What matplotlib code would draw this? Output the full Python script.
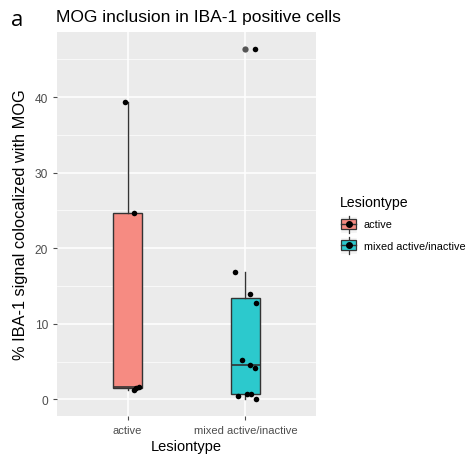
import numpy as np
import matplotlib
matplotlib.use("Agg")
import matplotlib.pyplot as plt
from matplotlib.legend_handler import HandlerBase
from matplotlib.patches import Rectangle, Patch
from matplotlib.lines import Line2D

plt.rcParams["font.family"] = ["Liberation Sans", "DejaVu Sans"]

# data
categories = ["active", "mixed active/inactive"]
active_vals = [39.3, 24.7, 1.3, 1.45, 1.7]
mixed_vals = [16.9, 13.95, 12.75, 5.2, 4.5, 4.2, 0.45, 0.65, 0.7, 0.1, 46.3]
# horizontal jitter of the points (category units)
active_jitter = [-0.02, 0.05, 0.05, 0.07, 0.10]
mixed_jitter = [-0.09, 0.04, 0.09, -0.03, 0.04, 0.08, -0.06, 0.01, 0.05, 0.09, 0.08]
colors = ["#F68B82", "#2CC9CD"]
y_ticks = [0, 10, 20, 30, 40]

fig = plt.figure(figsize=(4.71, 4.56), dpi=100)
ax = fig.add_axes([0.121, 0.0855, 0.55, 0.842])
ax.set_facecolor("#EBEBEB")
for s in ax.spines.values():
    s.set_visible(False)

# grid
ax.set_yticks(y_ticks)
ax.set_yticks([5, 15, 25, 35, 45], minor=True)
ax.grid(which="major", color="white", linewidth=1.1)
ax.grid(which="minor", axis="y", color="white", linewidth=0.5)
ax.set_axisbelow(True)

data = [active_vals, mixed_vals]
bp = ax.boxplot(data, positions=[1, 2], widths=0.25, patch_artist=True,
                whis=1.5, showcaps=False,
                flierprops=dict(marker="o", markerfacecolor="#555555",
                                markeredgecolor="none", markersize=4.5),
                medianprops=dict(color="#333333", linewidth=1.2),
                whiskerprops=dict(color="#333333", linewidth=1.0),
                boxprops=dict(edgecolor="#333333", linewidth=1.0))
for patch, c in zip(bp["boxes"], colors):
    patch.set_facecolor(c)
for med in bp["medians"]:
    med.set_zorder(3)

for i, (vals, jit) in enumerate([(active_vals, active_jitter), (mixed_vals, mixed_jitter)]):
    xs = np.array(jit) + i + 1
    ax.scatter(xs, vals, s=16, color="black", zorder=4, linewidths=0)

ax.set_xlim(0.4, 2.6)
ax.set_ylim(-2.2, 48.6)
ax.set_xticks([1, 2])
ax.set_xticklabels(categories)
ax.tick_params(axis="both", colors="#4D4D4D", labelsize=8, length=3, width=0.8,
               labelcolor="#4D4D4D")
ax.tick_params(axis="y", labelsize=8.6)
ax.tick_params(axis="both", which="minor", length=0)
ax.set_xlabel("Lesiontype", fontsize=10.5, labelpad=3)
ax.set_ylabel("% IBA-1 signal colocalized with MOG", fontsize=11.8, labelpad=5)
ax.set_title("MOG inclusion in IBA-1 positive cells", fontsize=12.5, loc="left",
             pad=8, x=-0.003)
fig.text(0.036, 0.956, "a", fontsize=16, va="center", ha="center",
         family=["Open Sans", "DejaVu Sans"])


class BoxKey(HandlerBase):
    def create_artists(self, legend, orig_handle, xdescent, ydescent,
                       width, height, fontsize, trans):
        bg = Rectangle((-xdescent, -ydescent), width, height,
                       facecolor="#F2F2F2", edgecolor="white", transform=trans)
        cx = -xdescent + width / 2
        vl = Line2D([cx, cx], [-ydescent, -ydescent + height],
                    color="#333333", lw=0.9, transform=trans)
        box = Rectangle((-xdescent + width * 0.05, -ydescent + height * 0.2),
                        width * 0.9, height * 0.6,
                        facecolor=orig_handle.get_facecolor(),
                        edgecolor="#333333", lw=0.9, transform=trans)
        hl = Line2D([-xdescent + width * 0.05, -xdescent + width * 0.95],
                    [-ydescent + height / 2] * 2, color="#333333", lw=1.0,
                    transform=trans)
        dot = Line2D([cx], [-ydescent + height / 2], marker="o", color="black",
                     markersize=4, transform=trans)
        return [bg, vl, box, hl, dot]


handles = [Patch(facecolor=c) for c in colors]
leg = fig.legend(handles, categories, title="Lesiontype",
                 handler_map={Patch: BoxKey()},
                 loc="upper left", bbox_to_anchor=(0.722, 0.571),
                 frameon=False, fontsize=7.8, title_fontsize=10.2,
                 handlelength=1.57, handleheight=2.03, handletextpad=0.6,
                 labelspacing=0.4, borderaxespad=0, borderpad=0)
leg._legend_box.align = "left"
leg._legend_box.sep = 5

fig.savefig("out.png", dpi=100)
